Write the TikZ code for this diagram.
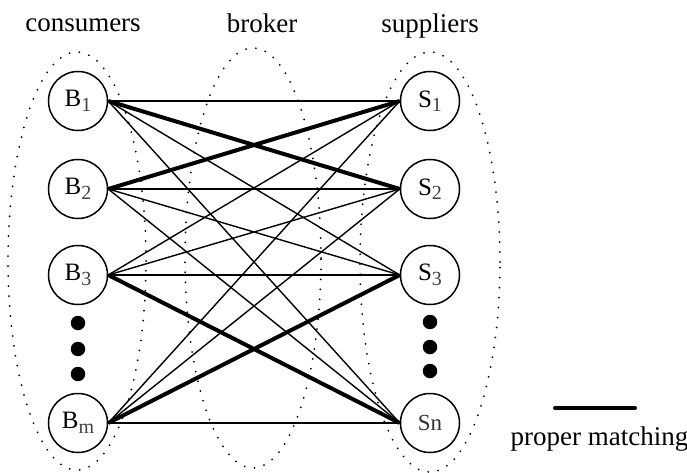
\documentclass[tikz,border=0pt]{standalone}
\usepackage{fontspec}
\setmainfont{Liberation Serif}
\pgfdeclarelayer{background}
\pgfsetlayers{background,main}
\newcommand{\idx}[1]{\raisebox{-4.5pt}{\fontsize{20}{20}\selectfont\color{black!75}#1}}

\begin{document}
\begin{tikzpicture}[x=1pt,y=-1pt,
  agent/.style={circle,draw,line width=1.5pt,minimum size=59pt,inner sep=0pt,font=\fontsize{25}{26}\selectfont},
  vdot/.style={circle,fill=black,inner sep=0pt,minimum width=13.5pt,minimum height=14.5pt},
  group/.style={line width=2pt,line cap=round,dash pattern=on 0pt off 10pt},
  title/.style={anchor=base,font=\fontsize{27}{30}\selectfont},
  link/.style={line width=1.4pt},
  matching/.style={line width=4pt}]
\useasboundingbox (0,0) rectangle (687,473);

\node[title] (tc) at (83,32) {consumers};
\node[title] (tb) at (262,33) {broker};
\node[title] (ts) at (430,33) {suppliers};

\node[agent] (B1) at (78,101) {B\idx{1}};
\node[agent] (B2) at (78,189) {B\idx{2}};
\node[agent] (B3) at (78,275) {B\idx{3}};
\node[agent] (Bm) at (78,423) {B\idx{m}};

\node[vdot] (d1) at (78,323) {};
\node[vdot] (d2) at (78,349) {};
\node[vdot] (d3) at (78,374) {};

\node[agent] (S1) at (430,101) {S\idx{1}};
\node[agent] (S2) at (430,189) {S\idx{2}};
\node[agent] (S3) at (430,275) {S\idx{3}};
\node[agent,font=\fontsize{23}{24}\selectfont,text=black!80] (Sn) at (430,423) {Sn};

\node[vdot] (e1) at (430,322) {};
\node[vdot] (e2) at (430,347) {};
\node[vdot] (e3) at (430,371) {};

% dotted groups behind everything
\begin{pgfonlayer}{background}
\draw[group] (77,261) ellipse [x radius=69pt, y radius=209pt];
\draw[group] (253,258) ellipse [x radius=68pt, y radius=210pt];
\draw[group] (430,262) ellipse [x radius=70pt, y radius=210pt];
\end{pgfonlayer}

\path[link] (B1.east) edge (S1.west);
\path[matching] (B1.east) edge (S2.west);
\path[link] (B1.east) edge (S3.west);
\path[link] (B1.east) edge (Sn.west);

\path[matching] (B2.east) edge (S1.west);
\path[link] (B2.east) edge (S2.west);
\path[link] (B2.east) edge (S3.west);
\path[link] (B2.east) edge (Sn.west);

\path[link] (B3.east) edge (S1.west);
\path[link] (B3.east) edge (S2.west);
\path[link] (B3.east) edge (S3.west);
\path[matching] (B3.east) edge (Sn.west);

\path[link] (Bm.east) edge (S1.west);
\path[link] (Bm.east) edge (S2.west);
\path[matching] (Bm.east) edge (S3.west);
\path[link] (Bm.east) edge (Sn.west);

% legend
\coordinate (L1) at (555,408);
\coordinate (L2) at (635,408);
\draw[matching,line cap=round] (L1) -- (L2);
\node[title,anchor=base west] (tm) at (507,445) {proper matching};

\end{tikzpicture}
\end{document}
